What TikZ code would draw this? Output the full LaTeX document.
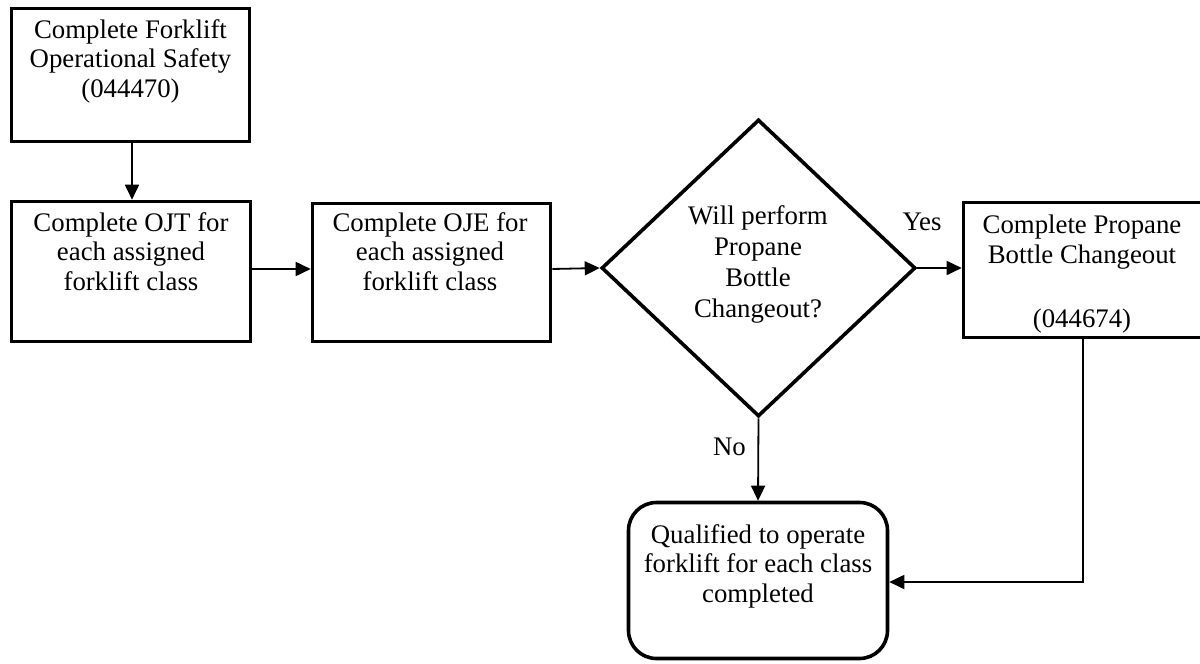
\documentclass[tikz,border=0pt]{standalone}
\usepackage{fontspec}
\setmainfont{Liberation Serif}
\usetikzlibrary{arrows.meta,shapes.geometric}
\begin{document}
\begin{tikzpicture}[x=1pt,y=-1pt,
  box/.style={draw,line width=3.6pt,inner sep=0pt,minimum width=#1,line join=miter},
  rbox/.style={draw,line width=3.6pt,inner sep=0pt,rounded corners=28pt},
  txt/.style={align=center,inner sep=0pt,anchor=base,font=\fontsize{26.8}{29.3}\selectfont},
  conn/.style={line width=1.8pt,-{Triangle[length=15pt,width=14pt]}},
  plain/.style={line width=1.8pt}
]
\useasboundingbox (0,0) rectangle (1200,664);
% boxes
\node[box=238pt,minimum height=133pt] (b1) at (130.5,75) {};
\node[box=239pt,minimum height=140pt] (b2) at (131,271.5) {};
\node[box=238pt,minimum height=138pt] (b3) at (431.5,272.5) {};
\node[box=245pt,minimum height=135pt] (b4) at (1086,270) {};
\node[draw,diamond,line width=3.6pt,inner sep=0pt,minimum width=314pt,minimum height=297pt] (dia) at (758.5,268) {};
\node[rbox,minimum width=259pt,minimum height=156pt] (rb) at (758,580.5) {};
% texts
\node[txt] (t1) at (130.5,97) {Complete Forklift\\Operational Safety\\(044470)};
\node[txt] (t2) at (131,290) {Complete OJT for\\each assigned\\forklift class};
\node[txt] (t3) at (430,290) {Complete OJE for\\each assigned\\forklift class};
\node[txt,font=\fontsize{26.8}{30.7}\selectfont] (t4) at (758,317) {Will perform\\Propane\\Bottle\\Changeout?};
\node[txt] (t5) at (1082,327) {Complete Propane\\Bottle Changeout\\[34.5pt](044674)};
\node[txt] (t6) at (758,602) {Qualified to operate\\forklift for each class\\completed};
\node[txt] (yes) at (922,230) {Yes};
\node[txt] (no) at (729.5,455) {No};
% connectors
\draw[conn] (b1.south -| 132,0) -- (b2.north -| 132,0);
\draw[conn] (b2.east |- 0,269) -- (b3.west |- 0,269);
\draw[conn] (b3.east |- 0,269) -- (dia.west);
\draw[conn] (dia.east) -- (b4.west |- dia.east);
\draw[conn] (dia.south) -- (rb.north);
\coordinate (c1) at (1083,582);
\draw[conn] (b4.south -| c1) -- (c1) -- (rb.east |- c1);
\end{tikzpicture}
\end{document}
